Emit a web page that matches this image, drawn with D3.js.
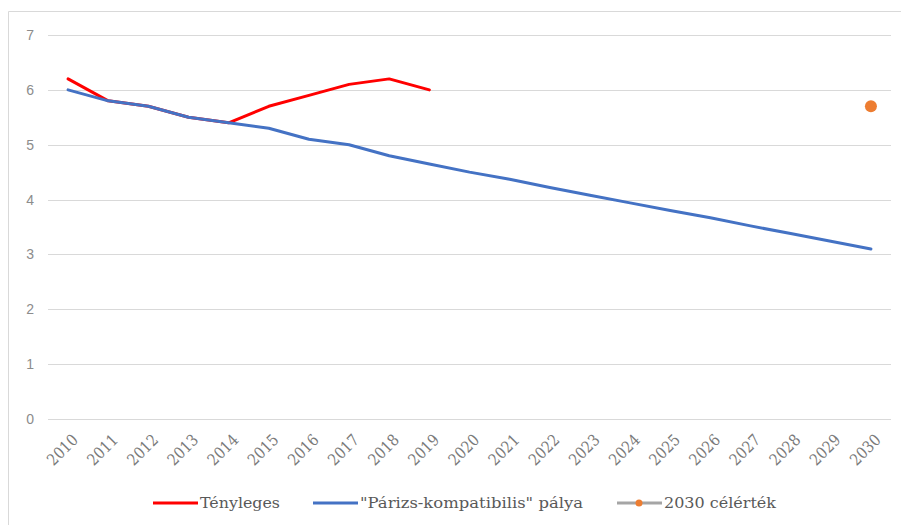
<!DOCTYPE html>
<html><head><meta charset="utf-8">
<script src="https://cdn.jsdelivr.net/npm/d3@7"></script>
<style>body{margin:0;background:#fff}svg{display:block}
.serif{font-family:"DejaVu Serif","Liberation Serif","Noto Serif",serif}
</style>
</head><body>
<svg id="c" width="901" height="525"></svg>
<script>
const years = ["2010","2011","2012","2013","2014","2015","2016","2017","2018","2019","2020","2021","2022","2023","2024","2025","2026","2027","2028","2029","2030"];
const actual = [6.2,5.8,5.7,5.5,5.4,5.7,5.9,6.1,6.2,6.0];
const paris = [6.0,5.8,5.7,5.5,5.4,5.3,5.1,5.0,4.8,4.65,4.5,4.37,4.22,4.08,3.94,3.8,3.67,3.52,3.38,3.24,3.1];
const targetYear = ["2030"];
const targetValue = [5.7];
const yTicks = [0,1,2,3,4,5,6,7];
const seriesNames = ["Tényleges","\"Párizs-kompatibilis\" pálya","2030 célérték"];

const svg = d3.select("#c");
// frame (top and left edges)
svg.append("path").attr("d","M8.5,525 V11.5 H901").attr("fill","none").attr("stroke","#d9d9d9").attr("stroke-width",1);

const x = d3.scaleBand().domain(years).range([48,891]);
const y = d3.scaleLinear().domain([0,7]).range([419,35]);
const cx = d => x(d)+x.bandwidth()/2;

// gridlines
svg.append("g").selectAll("line").data(yTicks).join("line")
  .attr("x1",48).attr("x2",891).attr("y1",d=>Math.round(y(d))+0.5).attr("y2",d=>Math.round(y(d))+0.5)
  .attr("stroke","#d9d9d9").attr("stroke-width",1);

// y axis labels
const yAxis = d3.axisLeft(y).tickValues(yTicks).tickFormat(d3.format("d")).tickSize(0).tickPadding(0);
const gy = svg.append("g").attr("transform","translate(34,0)").call(yAxis);
gy.select(".domain").remove();
gy.attr("font-family",null);
gy.selectAll("text").style("font-family","'Liberation Sans', Arial, sans-serif").attr("font-size",14).attr("fill","#8c8c8c");

// x axis labels
const xAxis = d3.axisBottom(x).tickSize(0).tickPadding(0);
const gx = svg.append("g").call(xAxis);
gx.attr("font-family",null).attr("font-size",null);
gx.select(".domain").remove();
gx.selectAll(".tick").attr("transform",d=>`translate(${cx(d)+3},433)`);
gx.selectAll("text").attr("class","serif").attr("font-size",16).attr("fill","#7a7a7a")
  .attr("y",0).attr("text-anchor","end").attr("dy","0.7em").attr("textLength",36).attr("lengthAdjust","spacingAndGlyphs")
  .attr("transform","rotate(-45)");

const line = d3.line().x((d,i)=>cx(years[i])).y(d=>y(d));
svg.append("path").datum(actual).attr("d",line).attr("fill","none").attr("stroke","#ff0000").attr("stroke-width",3).attr("stroke-linejoin","round").attr("stroke-linecap","round");
svg.append("path").datum(paris).attr("d",line).attr("fill","none").attr("stroke","#4472c4").attr("stroke-width",3).attr("stroke-linejoin","round").attr("stroke-linecap","round");
svg.append("g").selectAll("circle").data(targetValue).join("circle")
  .attr("cx",(d,i)=>cx(targetYear[i])).attr("cy",d=>y(d)).attr("r",6).attr("fill","#ed7d31");

// legend
const leg = svg.append("g").attr("class","serif").attr("font-size",15).attr("fill","#595959");
const legX = [153,313,617];
const legLen = [80,223,112];
const legColors = ["#ff0000","#4472c4","#a5a5a5"];
seriesNames.forEach((n,i)=>{
  leg.append("line").attr("x1",legX[i]).attr("x2",legX[i]+45).attr("y1",503).attr("y2",503).attr("stroke",legColors[i]).attr("stroke-width",3);
  if(i===2) leg.append("circle").attr("cx",legX[i]+22).attr("cy",503).attr("r",3.5).attr("fill","#ed7d31");
  leg.append("text").attr("class","serif").attr("x",legX[i]+47).attr("y",503).attr("dy","0.35em").attr("textLength",legLen[i]).attr("lengthAdjust","spacingAndGlyphs").text(n);
});
</script>
</body></html>
